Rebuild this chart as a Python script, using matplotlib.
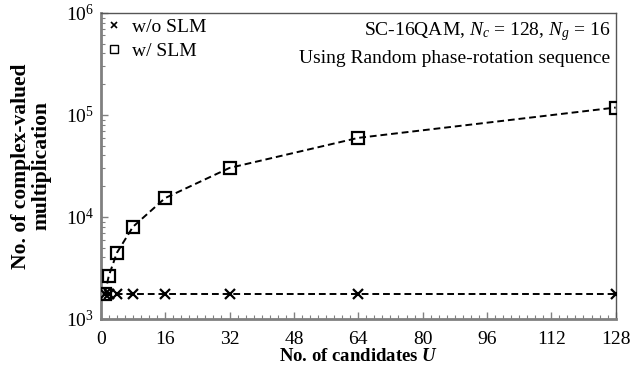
import matplotlib
matplotlib.use("Agg")
import matplotlib.pyplot as plt
from matplotlib.lines import Line2D
from matplotlib.ticker import MultipleLocator, LogLocator, NullFormatter

plt.rcParams['font.family'] = ['Liberation Serif', 'DejaVu Serif']
plt.rcParams['mathtext.fontset'] = 'custom'
plt.rcParams['mathtext.rm'] = 'Liberation Serif'
plt.rcParams['mathtext.it'] = 'Liberation Serif:italic'
plt.rcParams['mathtext.bf'] = 'Liberation Serif:bold:italic'

# number of candidates U
candidates = [1, 2, 4, 8, 16, 32, 64, 128]
# complex-valued multiplications
without_slm = [1760, 1760, 1760, 1760, 1760, 1760, 1760, 1760]
with_slm = [1760, 2650, 4450, 8000, 15300, 30200, 59500, 118000]

x_ticks = [0, 16, 32, 48, 64, 80, 96, 112, 128]

fig = plt.figure(figsize=(6.42, 3.67), dpi=100)
ax = fig.add_axes([0.157, 0.131, 0.802, 0.834])

ax.plot(candidates, without_slm, linestyle='--', dashes=(3.5, 2), color='black', lw=1.4,
        marker='x', markersize=7, markeredgewidth=1.6, zorder=3)
ax.plot(candidates, with_slm, linestyle='--', dashes=(3.5, 2), color='black', lw=1.4,
        marker='s', markersize=8, markerfacecolor='none', markeredgewidth=1.6,
        zorder=4)

ax.set_yscale('log')
ax.set_xlim(0, 128)
ax.set_ylim(1e3, 1e6)
ax.set_xticks(x_ticks)
ax.xaxis.set_minor_locator(MultipleLocator(2))
ax.yaxis.set_major_locator(LogLocator(base=10, numticks=10))
ax.yaxis.set_minor_locator(LogLocator(base=10, subs=range(2, 10), numticks=20))
ax.yaxis.set_minor_formatter(NullFormatter())

ax.tick_params(which='both', direction='in', labelsize=14, color='#808080')
ax.tick_params(which='major', length=5, width=1)
ax.tick_params(which='minor', length=3, width=0.8)
ax.tick_params(axis='x', pad=9)
ax.tick_params(axis='y', pad=5)

for side in ['left', 'bottom']:
    ax.spines[side].set_color('#808080')
    ax.spines[side].set_linewidth(2)
for side in ['top', 'right']:
    ax.spines[side].set_color('#555555')
    ax.spines[side].set_linewidth(1)

ax.set_xlabel('No. of candidates $\\mathbf{U}$', fontsize=13.5, fontweight='bold', labelpad=0)
ax.set_ylabel('No. of complex-valued\nmultiplication', fontsize=15.5, fontweight='bold',
              labelpad=10, linespacing=1.05)

# legend shows markers only
handles = [
    Line2D([], [], linestyle='none', color='black', marker='x', markersize=5,
           markeredgewidth=1.2),
    Line2D([], [], linestyle='none', color='black', marker='s', markersize=6,
           markerfacecolor='none', markeredgewidth=1.0),
]
ax.legend(handles, ['w/o SLM', 'w/ SLM'], loc='upper left', frameon=False, fontsize=14,
          handlelength=0.8, handletextpad=0.5, borderaxespad=0.1, labelspacing=0.3,
          borderpad=0.2)

ax.text(0.99, 0.975, 'SC-16QAM, $N_c$ = 128, $N_g$ = 16', transform=ax.transAxes,
        ha='right', va='top', fontsize=14)
ax.text(0.99, 0.88, 'Using Random phase-rotation sequence', transform=ax.transAxes,
        ha='right', va='top', fontsize=14)

fig.savefig('out.png', dpi=100)
